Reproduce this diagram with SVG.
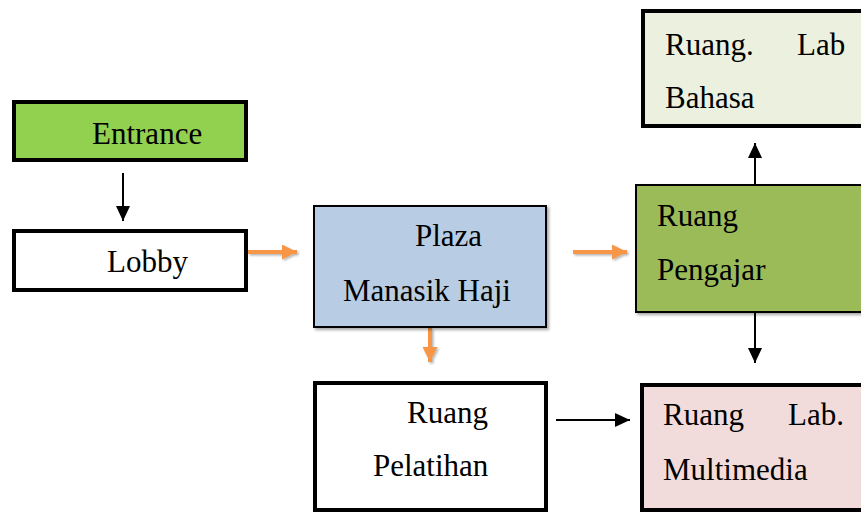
<svg xmlns="http://www.w3.org/2000/svg" width="861" height="514" viewBox="0 0 861 514">
<style>
  .t { font-family: "Liberation Serif", "Times New Roman", serif; font-size: 31px; fill: #000; }
  .thick { stroke: #000; stroke-width: 4; }
  .thin { stroke: #000; stroke-width: 2; }
  .blk { stroke: #000; stroke-width: 2; fill: none; }
  .org { stroke: #f79646; stroke-width: 4; fill: none; }
</style>
<defs>
  <filter id="sh" x="-10%" y="-10%" width="130%" height="130%">
    <feDropShadow dx="2" dy="2" stdDeviation="1.5" flood-color="#000" flood-opacity="0.35"/>
  </filter>
  <filter id="shl" filterUnits="userSpaceOnUse" x="0" y="0" width="861" height="514">
    <feDropShadow dx="1.5" dy="1.5" stdDeviation="1.2" flood-color="#000" flood-opacity="0.3"/>
  </filter>
  <marker id="ab" markerUnits="userSpaceOnUse" markerWidth="16" markerHeight="15" refX="15" refY="7" orient="auto">
    <path d="M0,0 L15,7 L0,14 z" fill="#000"/>
  </marker>
  <marker id="ao" markerUnits="userSpaceOnUse" markerWidth="16" markerHeight="16" refX="15" refY="7.5" orient="auto">
    <path d="M0,0 L15,7.5 L0,15 z" fill="#f79646"/>
  </marker>
</defs>
<rect width="861" height="514" fill="#fff"/>

<g id="connectors">
  <line class="blk" x1="123" y1="173" x2="123" y2="221" marker-end="url(#ab)"/>
  <g filter="url(#shl)">
    <line class="org" x1="248" y1="252" x2="297" y2="252" marker-end="url(#ao)"/>
    <line class="org" x1="573" y1="252" x2="627" y2="252" marker-end="url(#ao)"/>
    <line class="org" x1="430" y1="328" x2="430" y2="362" marker-end="url(#ao)"/>
  </g>
  <line class="blk" x1="755" y1="205" x2="755" y2="143" marker-end="url(#ab)"/>
  <line class="blk" x1="755" y1="313" x2="755" y2="363" marker-end="url(#ab)"/>
  <line class="blk" x1="556" y1="420" x2="630" y2="420" marker-end="url(#ab)"/>
</g>

<g id="entrance">
  <rect class="thick" x="14" y="102" width="232" height="58" fill="#92d050"/>
  <text class="t" x="92" y="144">Entrance</text>
</g>

<g id="lobby">
  <rect class="thick" x="14" y="231" width="232" height="59" fill="#fff"/>
  <text class="t" x="107" y="272">Lobby</text>
</g>

<g id="plaza">
  <rect class="thin" x="314" y="206" width="232" height="121" fill="#b8cce4" filter="url(#sh)"/>
  <text class="t" x="415" y="246">Plaza</text>
  <text class="t" x="343" y="301">Manasik Haji</text>
</g>

<g id="pengajar">
  <rect class="thin" x="636" y="185" width="240" height="127" fill="#9bbb59" filter="url(#sh)"/>
  <text class="t" x="657" y="226">Ruang</text>
  <text class="t" x="657" y="280">Pengajar</text>
</g>

<g id="lab-bahasa">
  <rect class="thick" x="643" y="11" width="240" height="115" fill="#ebf1de"/>
  <text class="t" x="665" y="55">Ruang.</text>
  <text class="t" x="797" y="55">Lab</text>
  <text class="t" x="665" y="108">Bahasa</text>
</g>

<g id="pelatihan">
  <rect class="thick" x="315" y="383" width="231" height="127" fill="#fff"/>
  <text class="t" x="407" y="423">Ruang</text>
  <text class="t" x="373" y="476">Pelatihan</text>
</g>

<g id="lab-multimedia">
  <rect class="thick" x="642" y="385" width="240" height="125" fill="#f2dcdb"/>
  <text class="t" x="663" y="425">Ruang</text>
  <text class="t" x="788" y="425">Lab.</text>
  <text class="t" x="663" y="480">Multimedia</text>
</g>
</svg>
